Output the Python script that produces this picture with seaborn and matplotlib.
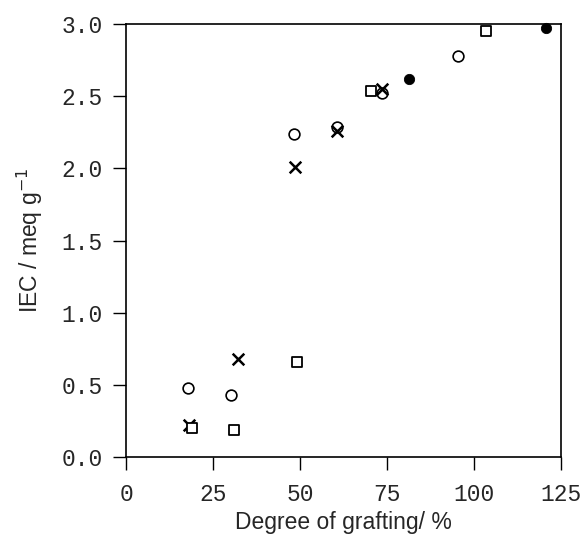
"""
IEC versus degree of grafting, four sample series.
"""
import matplotlib
matplotlib.use("Agg")
import matplotlib.pyplot as plt
import pandas as pd
import seaborn as sns

sns.set_style("ticks")

# open circles
circ_x = [17.9, 30.1, 48.4, 60.5, 73.7, 95.5]
circ_y = [0.48, 0.43, 2.24, 2.29, 2.52, 2.78]
# crosses
cross_x = [18.1, 32.1, 48.6, 60.5, 73.7]
cross_y = [0.22, 0.68, 2.01, 2.26, 2.55]
# open squares
sq_x = [19.1, 31.0, 49.0, 70.3, 103.4]
sq_y = [0.20, 0.19, 0.66, 2.54, 2.95]
# filled circles
dot_x = [81.4, 120.7]
dot_y = [2.62, 2.97]

x_ticks = [0, 25, 50, 75, 100, 125]
y_ticks = [0.0, 0.5, 1.0, 1.5, 2.0, 2.5, 3.0]

fig = plt.figure(figsize=(5.85, 5.36), dpi=100)
ax = fig.add_axes([0.2154, 0.147, 0.7436, 0.808])

styles = [
    (circ_x, circ_y, dict(marker="o", s=60, facecolor="white", edgecolor="black", linewidth=1.2)),
    (cross_x, cross_y, dict(marker="x", s=70, color="black", linewidth=1.8)),
    (sq_x, sq_y, dict(marker="s", s=60, facecolor="white", edgecolor="black", linewidth=1.3)),
    (dot_x, dot_y, dict(marker="o", s=55, color="black", edgecolor="black")),
]
for xs, ys, kw in styles:
    df = pd.DataFrame({"x": xs, "y": ys})
    sns.scatterplot(data=df, x="x", y="y", ax=ax, zorder=3, clip_on=False, **kw)

ax.set_xlim(0, 125)
ax.set_ylim(0, 3.0)
ax.set_xticks(x_ticks)
ax.set_yticks(y_ticks)
ax.set_yticklabels([f"{v:.1f}" for v in y_ticks])

for lab in ax.get_xticklabels() + ax.get_yticklabels():
    lab.set_family("Liberation Mono")
    lab.set_fontsize(16.5)

ax.tick_params(direction="out", length=9.5, width=1, color="black")
ax.tick_params(axis="x", pad=9)
ax.tick_params(axis="y", pad=7)
for sp in ax.spines.values():
    sp.set_color("black")
    sp.set_linewidth(1.2)

ax.set_xlabel("Degree of grafting/ %", family="Liberation Sans", fontsize=16.5, labelpad=4)
ax.set_ylabel(r"IEC / meq g$^{-1}$", family="Liberation Sans", fontsize=16.5, labelpad=12)

fig.savefig("out.png", dpi=100)
